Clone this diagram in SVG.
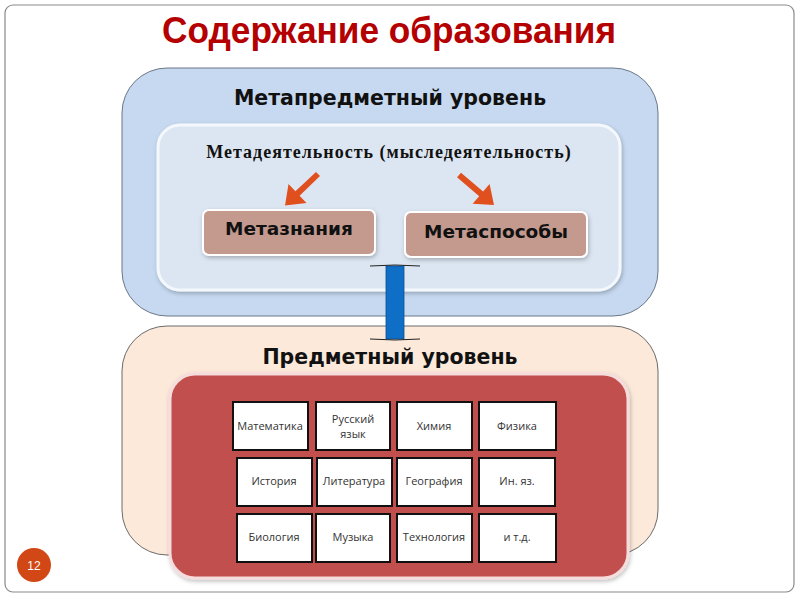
<svg xmlns="http://www.w3.org/2000/svg" width="800" height="600" viewBox="0 0 800 600">
<defs>
<style>
.lvl{font-family:"DejaVu Sans",Verdana,sans-serif;font-weight:bold;font-size:20.5px;fill:#111;text-anchor:middle}
.meta{font-family:"DejaVu Sans",Verdana,sans-serif;font-weight:bold;font-size:18.5px;fill:#111;text-anchor:middle}
.cell rect{fill:#fff;stroke:#111;stroke-width:2}
.cell text{font-family:"Open Sans","Noto Sans",sans-serif;font-size:11px;fill:#333;text-anchor:middle}
.arrow{fill:#e0501e}
</style>
<filter id="sh" x="-10%" y="-10%" width="120%" height="125%">
<feDropShadow dx="1" dy="2" stdDeviation="2" flood-color="#000" flood-opacity="0.25"/>
</filter>
</defs>
<rect x="0" y="0" width="800" height="600" fill="#fff"/>
<rect x="5" y="5" width="789" height="587" rx="8" fill="#fff" stroke="#8a8a8a" stroke-width="1.2"/>
<g id="title"><text x="389" y="43" font-family="Liberation Sans,Arial,sans-serif" font-weight="bold" font-size="36" fill="#b40000" text-anchor="middle" textLength="454" lengthAdjust="spacingAndGlyphs">Содержание образования</text></g>

<g id="meta-level">
<rect x="122" y="68" width="536" height="248" rx="45" fill="#c6d9f0" stroke="#6b7788" stroke-width="1"/>
<text class="lvl" x="390" y="105">Метапредметный уровень</text>
</g>
<g id="metaactivity">
<rect x="158" y="125" width="462" height="165" rx="22" fill="#dce6f2" stroke="#f4f8fc" stroke-width="3" filter="url(#sh)"/>
<text x="389" y="158" font-family="Liberation Serif,Times New Roman,serif" font-weight="bold" font-size="18" letter-spacing="1" fill="#111" text-anchor="middle">Метадеятельность (мыследеятельность)</text>
</g>
<g id="metaknowledge">
<rect x="203" y="210" width="172" height="45" rx="6" fill="#c49a8e" stroke="#fff" stroke-width="2" filter="url(#sh)"/>
<text class="meta" x="289" y="235">Метазнания</text>
</g>
<g id="metamethods">
<rect x="405" y="212" width="182" height="45" rx="6" fill="#c49a8e" stroke="#fff" stroke-width="2" filter="url(#sh)"/>
<text class="meta" x="496" y="238">Метаспособы</text>
</g>

<g id="subject-level">
<rect x="122" y="326" width="536" height="229" rx="45" fill="#fce9da" stroke="#6b6b6b" stroke-width="1"/>
<text class="lvl" x="390" y="364">Предметный уровень</text>
</g>
<g id="subjects">
<rect x="170" y="374" width="458" height="204" rx="25" fill="#c0504d" stroke="#f6dcdc" stroke-width="3" filter="url(#sh)"/>
<g class="cell" id="s1"><rect x="233" y="402" width="75" height="48"/><text x="270" y="430">Математика</text></g>
<g class="cell" id="s2"><rect x="316" y="402" width="74" height="48"/><text x="353" y="423">Русский</text><text x="353" y="438">язык</text></g>
<g class="cell" id="s3"><rect x="397" y="402" width="75" height="48"/><text x="434" y="430">Химия</text></g>
<g class="cell" id="s4"><rect x="479" y="402" width="77" height="48"/><text x="517" y="430">Физика</text></g>
<g class="cell" id="s5"><rect x="237" y="458" width="75" height="48"/><text x="274" y="485">История</text></g>
<g class="cell" id="s6"><rect x="317" y="458" width="75" height="48"/><text x="354" y="485">Литература</text></g>
<g class="cell" id="s7"><rect x="397" y="458" width="75" height="48"/><text x="434" y="485">География</text></g>
<g class="cell" id="s8"><rect x="479" y="458" width="76" height="48"/><text x="517" y="485">Ин. яз.</text></g>
<g class="cell" id="s9"><rect x="237" y="514" width="75" height="48"/><text x="274" y="541">Биология</text></g>
<g class="cell" id="s10"><rect x="316" y="514" width="74" height="48"/><text x="353" y="541">Музыка</text></g>
<g class="cell" id="s11"><rect x="397" y="514" width="75" height="48"/><text x="434" y="541">Технология</text></g>
<g class="cell" id="s12"><rect x="479" y="514" width="77" height="48"/><text x="517" y="541">и т.д.</text></g>
</g>

<g id="connectors">
<path class="arrow" d="M316,172 L320,176 L299.6,195.7 L306.5,202.9 L285,205.5 L288.5,184.1 L295.4,191.3 Z"/>
<path class="arrow" d="M461,172.7 L483.1,191.6 L489.6,184 L494,205 L472.6,203.8 L479.2,196.2 L457,177.3 Z"/>
<rect x="386" y="266" width="18" height="73" fill="#0f6fc6" stroke="#0a4e90" stroke-width="0.8"/>
<path d="M370,266 Q395,264 420,266 M370,339 Q395,341 420,339" fill="none" stroke="#222" stroke-width="1"/>
</g>

<g id="page-number">
<circle cx="34" cy="565" r="17" fill="#d24716"/>
<text x="34" y="569.5" font-family="Liberation Sans,Arial,sans-serif" font-size="12" fill="#fff" text-anchor="middle">12</text>
</g>
</svg>
